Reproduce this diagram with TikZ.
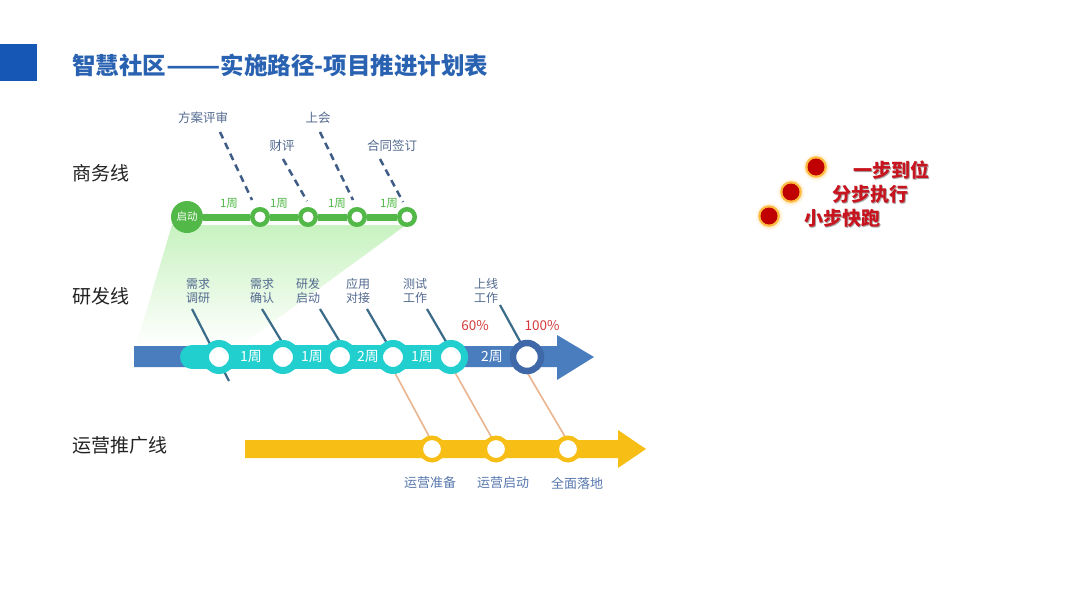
\documentclass[tikz,border=0pt]{standalone}
\usepackage{fontspec}
\setmainfont{Noto Sans CJK SC}
\newcommand{\fsz}[1]{\fontsize{#1}{#1}\selectfont}
\definecolor{csq}{HTML}{1657B5}
\definecolor{ctitle}{HTML}{2A62B2}
\definecolor{crow}{HTML}{222222}
\definecolor{cgreen}{HTML}{52B848}
\definecolor{cfan}{HTML}{C8F2C0}
\definecolor{cdash}{HTML}{3E5C86}
\definecolor{clab}{HTML}{52698F}
\definecolor{cbar}{HTML}{4A7DBE}
\definecolor{ccyan}{HTML}{22CFCF}
\definecolor{cdnode}{HTML}{3F68A8}
\definecolor{cconn}{HTML}{3A6B88}
\definecolor{corange}{HTML}{E9B48E}
\definecolor{cyellow}{HTML}{F7BE16}
\definecolor{cbot}{HTML}{5878AE}
\definecolor{cpct}{HTML}{D43A3A}
\definecolor{cdot}{HTML}{C00000}
\definecolor{cglow}{HTML}{FFB020}
\definecolor{cred}{HTML}{C8141E}
\begin{document}
\begin{tikzpicture}[x=1pt,y=-1pt,
  rowlabel/.style={anchor=west,inner sep=0,text=crow,font=\fsz{19}},
  toplab/.style={inner sep=0,text=clab,font=\fsz{12.5}},
  twolab/.style={inner sep=0,text=clab,font=\fontsize{12}{13.5}\selectfont,align=center},
  gweek/.style={inner sep=0,text=cgreen,font=\fsz{11.5}},
  bweek/.style={inner sep=0,text=white,font=\fsz{14}},
  gstart/.style={circle,fill=cgreen,minimum size=32,inner sep=0,text=white,font=\fsz{10.5}},
  gnode/.style={circle,fill=white,draw=cgreen,line width=4.5,minimum size=15.5,inner sep=0},
  cnode/.style={circle,fill=white,draw=ccyan,line width=7,minimum size=27,inner sep=0},
  dnode/.style={circle,fill=white,draw=cdnode,line width=6.5,minimum size=28,inner sep=0},
  ynode/.style={circle,fill=white,draw=cyellow,line width=4.5,minimum size=22.5,inner sep=0},
  dashline/.style={draw=cdash,line width=2.5,dash pattern=on 7pt off 5pt},
  connline/.style={draw=cconn,line width=2.2},
  oline/.style={draw=corange,line width=1.6},
  botlab/.style={inner sep=0,text=cbot,font=\fsz{13}},
  pct/.style={inner sep=0,text=cpct,font=\fsz{13.5}},
  reddot/.style={circle,fill=cdot,minimum size=17,inner sep=0},
  redtxt/.style={anchor=west,inner sep=0,text=cred,font=\fsz{19}\bfseries},
  shadtxt/.style={anchor=west,inner sep=0,text=black!35,font=\fsz{19}\bfseries}
]
\useasboundingbox (0,0) rectangle (1080,608);
\fill[white] (0,0) rectangle (1080,608);

% header
\fill[csq] (0,44) rectangle (37,81);
\node[anchor=west,inner sep=0,text=ctitle,font=\fsz{23.5}\bfseries] (title) at (72,65) {智慧社区\scalebox{1.35}[1]{——}实施路径-项目推进计划表};

% row labels
\node[rowlabel] (rbiz) at (72,173) {商务线};
\node[rowlabel] (rdev) at (72,296) {研发线};
\node[rowlabel] (rops) at (72,445) {运营推广线};

% green fan
\shade[top color=cfan,bottom color=white] (172,225) -- (406,225) -- (240,346) -- (136,346) -- cycle;

% ---- business line ----
\node[toplab] (b1) at (203,118) {方案评审};
\node[toplab] (b2) at (282,146) {财评};
\node[toplab] (b3) at (318,118) {上会};
\node[toplab] (b4) at (392,146) {合同签订};
\coordinate (b1a) at (220,132); \coordinate (b1b) at (252,200);
\coordinate (b2a) at (283,159); \coordinate (b2b) at (307,201);
\coordinate (b3a) at (320,132); \coordinate (b3b) at (353,200);
\coordinate (b4a) at (380,159); \coordinate (b4b) at (403,202);
\draw[dashline] (b1a) -- (b1b);
\draw[dashline] (b2a) -- (b2b);
\draw[dashline] (b3a) -- (b3b);
\draw[dashline] (b4a) -- (b4b);

\node[gstart] (g0) at (187,217) {启动};
\node[gnode] (g1) at (260,217) {};
\node[gnode] (g2) at (308,217) {};
\node[gnode] (g3) at (357,217) {};
\node[gnode] (g4) at (407,217) {};
\draw[cgreen,line width=7] (g0) -- (g1);
\draw[cgreen,line width=7] (g1) -- (g2);
\draw[cgreen,line width=7] (g2) -- (g3);
\draw[cgreen,line width=7] (g3) -- (g4);
\node[gweek] (w1) at (229,203) {1周};
\node[gweek] (w2) at (279,203) {1周};
\node[gweek] (w3) at (337,203) {1周};
\node[gweek] (w4) at (389,203) {1周};

% ---- connectors (under bars) ----
\coordinate (o1a) at (388,360); \coordinate (o1b) at (431,440);
\coordinate (o2a) at (448,360); \coordinate (o2b) at (493,440);
\coordinate (o3a) at (521,362); \coordinate (o3b) at (567,440);
\draw[oline] (o1a) -- (o1b);
\draw[oline] (o2a) -- (o2b);
\draw[oline] (o3a) -- (o3b);

\node[twolab] (d1) at (198,291) {需求\\调研};
\node[twolab] (d2) at (262,291) {需求\\确认};
\node[twolab] (d3) at (308,291) {研发\\启动};
\node[twolab] (d4) at (358,291) {应用\\对接};
\node[twolab] (d5) at (415,291) {测试\\工作};
\node[twolab] (d6) at (486,291) {上线\\工作};
\coordinate (e1a) at (192,309); \coordinate (e1b) at (229,381);
\coordinate (e2a) at (262,309); \coordinate (e2b) at (282,342);
\coordinate (e3a) at (320,309); \coordinate (e3b) at (340,342);
\coordinate (e4a) at (367,309); \coordinate (e4b) at (388,345);
\coordinate (e5a) at (427,309); \coordinate (e5b) at (448,345);
\coordinate (e6a) at (500,305); \coordinate (e6b) at (522,345);
\draw[connline] (e1a) -- (e1b);
\draw[connline] (e2a) -- (e2b);
\draw[connline] (e3a) -- (e3b);
\draw[connline] (e4a) -- (e4b);
\draw[connline] (e5a) -- (e5b);
\draw[connline] (e6a) -- (e6b);

% ---- dev line ----
\fill[cbar] (134,346) -- (557,346) -- (557,335) -- (594,357) -- (557,380) -- (557,367) -- (134,367) -- cycle;
\draw[ccyan,line width=24,line cap=round] (192,357) -- (456,357);
\node[cnode] (k1) at (219,357) {};
\node[cnode] (k2) at (283,357) {};
\node[cnode] (k3) at (340,357) {};
\node[cnode] (k4) at (393,357) {};
\node[cnode] (k5) at (451,357) {};
\node[dnode] (k6) at (527,357) {};
\node[bweek] (v1) at (251,357) {1周};
\node[bweek] (v2) at (312,357) {1周};
\node[bweek] (v3) at (368,357) {2周};
\node[bweek] (v4) at (422,357) {1周};
\node[bweek] (v5) at (492,357) {2周};
\node[pct] (p1) at (475,326) {60\%};
\node[pct] (p2) at (542,326) {100\%};

% ---- ops line ----
\fill[cyellow] (245,440) -- (618,440) -- (618,430) -- (646,449) -- (618,468) -- (618,458) -- (245,458) -- cycle;
\node[ynode] (y1) at (432,449) {};
\node[ynode] (y2) at (496,449) {};
\node[ynode] (y3) at (568,449) {};
\node[botlab] (z1) at (430,483) {运营准备};
\node[botlab] (z2) at (503,483) {运营启动};
\node[botlab] (z3) at (577,483) {全面落地};

% ---- right legend ----
\foreach \n/\x/\y in {r1/816/167,r2/791/192,r3/769/216}{
  \shade[inner color=cglow,outer color=white] (\x,\y) circle (14);
  \fill[cglow!85] (\x,\y) circle (10.8);
  \node[reddot] (\n) at (\x,\y) {};
}
\node[shadtxt] (s1) at (853.8,171.2) {一步到位};
\node[shadtxt] (s2) at (832.8,195.2) {分步执行};
\node[shadtxt] (s3) at (804.8,219.2) {小步快跑};
\node[redtxt] (t1) at (853,170) {一步到位};
\node[redtxt] (t2) at (832,194) {分步执行};
\node[redtxt] (t3) at (804,218) {小步快跑};
\end{tikzpicture}
\end{document}
